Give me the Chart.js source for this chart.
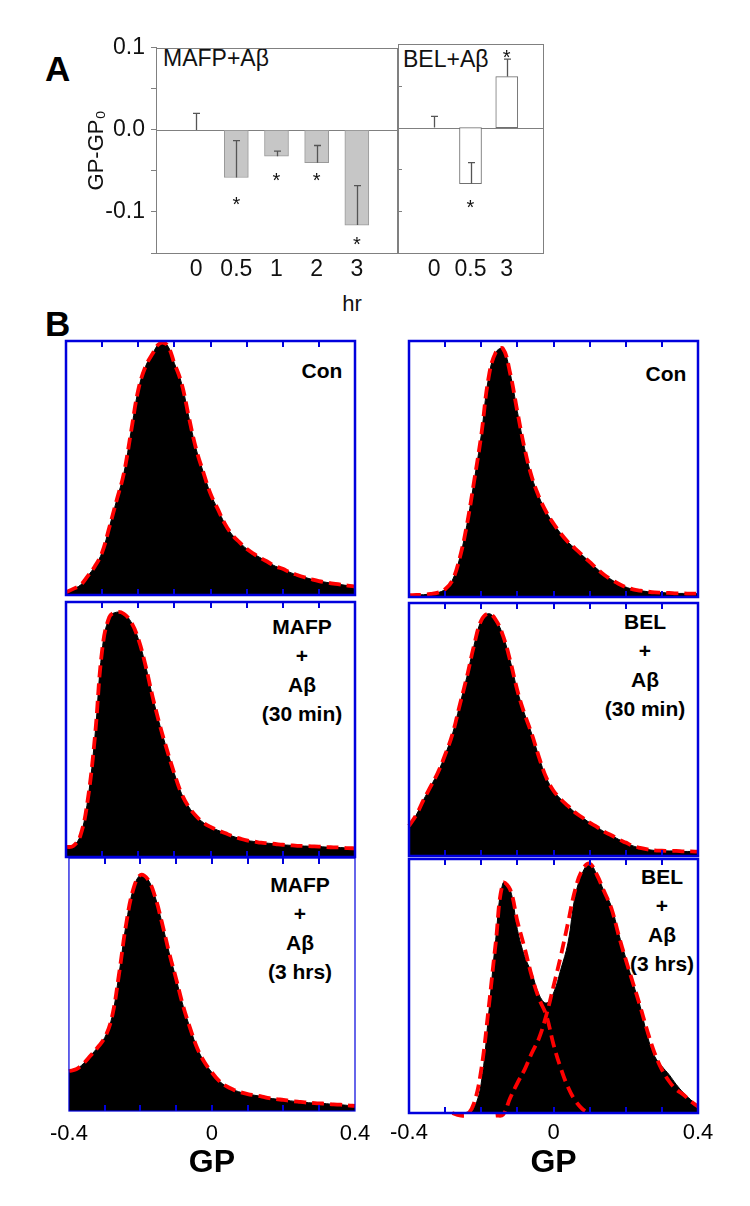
<!DOCTYPE html>
<html><head><meta charset="utf-8">
<script src="https://cdn.jsdelivr.net/npm/chart.js@4.4.1/dist/chart.umd.min.js"></script>
<style>
html,body{margin:0;padding:0;background:#fff;}
body{width:750px;height:1206px;position:relative;overflow:hidden;font-family:"Liberation Sans",Arial,Helvetica,sans-serif;color:#000;}
canvas{position:absolute;}
.t{position:absolute;white-space:nowrap;}
.pl{font-weight:bold;font-size:35px;line-height:40px;}
.ann{font-size:23px;line-height:26px;color:#111;}
.hl{font-weight:bold;font-size:21px;line-height:29px;text-align:center;transform:translateX(-50%);}
</style></head><body>
<div class="t pl" style="left:45px;top:49px">A</div>
<div class="t pl" style="left:45px;top:304px">B</div>
<div class="t ann" style="left:163px;top:45px">MAFP+Aβ</div>
<div class="t ann" style="left:403px;top:46px">BEL+Aβ</div>
<div class="t ann" style="left:352px;top:291px;transform:translateX(-50%);font-size:22px">hr</div>
<div class="t hl" style="left:322px;top:356px">Con</div>
<div class="t hl" style="left:666px;top:359px">Con</div>
<div class="t hl" style="left:302px;top:612px">MAFP<br>+<br>Aβ<br>(30 min)</div>
<div class="t hl" style="left:645px;top:607px">BEL<br>+<br>Aβ<br>(30 min)</div>
<div class="t hl" style="left:300px;top:870px">MAFP<br>+<br>Aβ<br>(3 hrs)</div>
<div class="t hl" style="left:662px;top:862px">BEL<br>+<br>Aβ<br>(3 hrs)</div>
<script>
// ---------- Panel A data ----------
const aLeftLabels  = ['0','0.5','1','2','3'];
const aLeftValues  = [0.000,-0.058,-0.032,-0.040,-0.116];
const aLeftErrors  = [0.020, 0.045, 0.006, 0.021, 0.048];
const aLeftStars   = [null,-0.085,-0.056,-0.056,-0.133];
const aRightLabels = ['0','0.5','3'];
const aRightValues = [0.000,-0.067,0.061];
const aRightErrors = [0.0135,0.025,0.021];
const aRightStars  = [null,-0.089,0.090];
const aYTickValues = [-0.1,0,0.1];
const aYTickLabels = ['-0.1','0.0','0.1'];

// ---------- Panel B data (GP histograms, % of frame height) ----------
const gpGrid = [-0.40,-0.38,-0.36,-0.34,-0.32,-0.30,-0.28,-0.26,-0.24,-0.22,-0.20,-0.18,-0.16,-0.14,-0.12,-0.10,-0.08,-0.06,-0.04,-0.02,0.00,
                0.02,0.04,0.06,0.08,0.10,0.12,0.14,0.16,0.18,0.20,0.22,0.24,0.26,0.28,0.30,0.32,0.34,0.36,0.38,0.40];
const gpTickValues = [-0.4,0,0.4];
const gpTickLabels = ['-0.4','0','0.4'];
const histConMafp = [1.1,2.4,3.9,7.4,11.3,16.8,26.7,37.2,47.8,64.2,80.7,89.9,95.1,99.1,98.4,91.2,83.3,70.1,57.6,48.4,39.9,
                     33.9,28.0,23.7,20.8,18.2,16.2,14.5,12.9,11.3,10.3,8.9,7.9,7.0,6.2,5.5,5.0,4.5,4.1,3.7,3.4];
const histConBel  = [0.7,0.8,0.9,1.2,1.7,3.0,6.5,15.0,28.0,45.0,63.2,85.4,95.5,97.0,87.4,72.4,58.0,46.9,39.1,33.2,28.7,
                     24.8,21.5,18.9,16.3,13.7,11.1,8.7,6.8,5.2,3.9,3.0,2.5,2.1,1.8,1.7,1.6,1.4,1.4,1.3,1.3];
const histMafp30  = [3.9,4.3,8.5,22.2,47.1,81.0,94.1,96.0,95.4,92.2,85.6,75.2,62.7,51.6,41.8,32.7,24.8,19.6,16.1,13.5,11.8,
                     10.5,9.4,8.2,7.3,6.5,6.1,5.6,5.4,5.1,4.8,4.6,4.4,4.3,4.2,4.1,3.9,3.8,3.7,3.5,3.4];
const histBel30   = [11.9,16.2,22.1,27.5,33.0,40.0,48.0,59.4,70.7,83.2,93.1,95.8,93.4,87.2,77.3,65.4,56.1,48.2,39.0,31.0,25.8,
                     22.5,19.8,17.2,15.2,13.2,11.5,9.6,8.2,6.6,5.3,4.0,3.2,2.6,2.2,2.1,2.0,2.0,1.8,1.8,1.7];
const histMafp3h  = [15.8,16.5,18.7,21.8,25.1,29.0,36.9,54.1,73.9,87.7,93.3,91.7,85.1,74.5,62.7,52.1,41.2,32.3,24.4,19.1,15.2,
                     11.9,9.8,8.4,7.4,6.7,6.2,5.7,5.1,4.7,4.4,4.0,3.7,3.4,3.2,3.0,2.9,2.6,2.5,2.2,2.0];
const histBel3h   = [0,0,0,0,0,0,0,0,0.3,2.0,11.8,38.1,68.2,90.5,88.0,72.2,61.7,55.1,46.6,43.3,47.2,
                     56.4,66.9,85.3,94.5,98.2,93.8,87.3,81.4,70.9,61.0,51.2,42.0,30.2,22.3,18.4,15.1,11.2,7.9,5.2,2.6];
const fitBel3hA   = [null,null,null,null,null,null,0,-0.9,-0.7,3.9,17.1,40.7,66.9,90.5,88.0,75.5,65.0,53.8,45.0,38.5,27.0,
                     17.7,10.2,4.9,1.6,0,null,null,null,null,null,null,null,null,null,null,null,null,null,null,null];
const fitBel3hB   = [null,null,null,null,null,null,null,null,null,null,null,null,-1.0,-0.7,5.9,11.8,17.1,23.6,29.5,38.5,49.9,
                     61.7,74.8,87.9,95.8,98.2,93.8,87.3,80.7,70.2,60.4,51.2,42.0,32.2,23.6,17.1,12.5,9.2,7.2,4.6,2.6];

Chart.defaults.font.family = '"Liberation Sans", Arial, Helvetica, sans-serif';

function addCanvas(left, top, w, h){
  const cv = document.createElement('canvas');
  cv.width = w; cv.height = h;
  cv.style.left = left + 'px'; cv.style.top = top + 'px';
  document.body.appendChild(cv);
  return cv;
}

// ---------- Panel A ----------
function aPlugin(cfg){
  return {
    id: 'pa_' + cfg.name,
    beforeDatasetsDraw(chart){
      const {ctx, chartArea: a, scales: {y}} = chart;
      const y0 = Math.round(y.getPixelForValue(0)) + 0.5;
      ctx.save();
      ctx.strokeStyle = '#808080'; ctx.lineWidth = 1;
      ctx.beginPath(); ctx.moveTo(a.left, y0); ctx.lineTo(a.right, y0); ctx.stroke();
      ctx.restore();
    },
    afterDatasetsDraw(chart){
      const {ctx, chartArea: a, scales: {x, y}} = chart;
      ctx.save();
      ctx.strokeStyle = '#555'; ctx.lineWidth = 1.3;
      cfg.values.forEach((v, i) => {
        const px = Math.round(x.getPixelForValue(i)) + 0.5;
        const p0 = y.getPixelForValue(v), p1 = y.getPixelForValue(v + cfg.errors[i]);
        ctx.beginPath(); ctx.moveTo(px, p0); ctx.lineTo(px, p1);
        ctx.moveTo(px - 3.5, p1); ctx.lineTo(px + 3.5, p1); ctx.stroke();
      });
      ctx.fillStyle = '#111'; ctx.font = '20px "Liberation Sans", Arial, sans-serif';
      ctx.textAlign = 'center'; ctx.textBaseline = 'alphabetic';
      cfg.stars.forEach((s, i) => {
        if (s === null) return;
        ctx.fillText('*', x.getPixelForValue(i), y.getPixelForValue(s) + 11.5);
      });
      ctx.strokeStyle = '#808080'; ctx.lineWidth = 1;
      ctx.strokeRect(Math.round(a.left) + 0.5, Math.round(a.top) + 0.5, Math.round(a.right - a.left), Math.round(a.bottom - a.top));
      if (cfg.innerTicks) {
        ctx.beginPath();
        y.ticks.forEach(t => {
          if (Math.abs(t.value) < 1e-9 || t.value <= y.min + 1e-9 || t.value >= y.max - 1e-9) return;
          const py = Math.round(y.getPixelForValue(t.value)) + 0.5;
          ctx.moveTo(a.left, py); ctx.lineTo(a.left + 4, py);
        });
        ctx.stroke();
      }
      ctx.restore();
    }
  };
}

function makeA(cfg){
  const cv = addCanvas(cfg.cx, cfg.cy, cfg.cw, cfg.ch);
  const yLabel = v => { const i = aYTickValues.findIndex(t => Math.abs(t - v) < 1e-6); return i >= 0 ? aYTickLabels[i] : ''; };
  new Chart(cv, {
    type: 'bar',
    data: { datasets: [{
      data: cfg.values.map((v, i) => ({x: i, y: v})),
      backgroundColor: cfg.fill, borderColor: cfg.edge, borderWidth: 1, borderSkipped: false,
      barThickness: cfg.barW
    }]},
    options: {
      responsive: false, animation: false, events: [],
      layout: { padding: cfg.pad },
      plugins: { legend: {display: false}, tooltip: {enabled: false} },
      scales: {
        x: { type: 'linear', min: -1, max: cfg.labels.length, offset: false,
             ticks: { stepSize: 1, autoSkip: false, maxRotation: 0, padding: 3, font: {size: 23}, color: '#111',
                      callback: v => (Number.isInteger(v) && v >= 0 && v < cfg.labels.length) ? cfg.labels[v] : '' },
             grid: { display: false, drawTicks: false }, border: { display: false },
             afterFit: s => { s.height = 71; } },
        y: { type: 'linear', min: -0.15, max: 0.1, display: cfg.yAxis,
             ticks: { stepSize: 0.05, padding: 6, font: {size: 23}, color: '#111', callback: yLabel },
             grid: { display: true, drawOnChartArea: false, drawTicks: true, tickLength: 5, tickColor: '#808080', tickWidth: 1 },
             border: { display: true, color: '#808080' },
             title: { display: cfg.yAxis, text: 'GP-GP₀', font: {size: 22}, color: '#111', padding: {top: 28, bottom: 0} },
             afterFit: s => { s.width = cfg.yAxis ? 100 : 0; } }
      }
    },
    plugins: [aPlugin(cfg)]
  });
}

makeA({name: 'left', labels: aLeftLabels, values: aLeftValues, errors: aLeftErrors, stars: aLeftStars,
       fill: '#c6c6c6', edge: '#9a9a9a', barW: 24, yAxis: true, innerTicks: false,
       cx: 56, cy: 28, cw: 344, ch: 296, pad: {top: 16, left: 0, right: 2, bottom: 0}});
makeA({name: 'right', labels: aRightLabels, values: aRightValues, errors: aRightErrors, stars: aRightStars,
       fill: '#ffffff', edge: '#707070', barW: 22, yAxis: false, innerTicks: true,
       cx: 392, cy: 28, cw: 156, ch: 296, pad: {top: 16, left: 6, right: 5, bottom: 0}});

// ---------- Panel B ----------
const frameB = {
  id: 'frameB',
  afterDraw(chart, args, opts){
    const {ctx, chartArea: a, scales: {x}} = chart;
    ctx.save();
    ctx.strokeStyle = opts.color; ctx.lineWidth = opts.width;
    ctx.strokeRect(a.left, a.top, a.right - a.left, a.bottom - a.top);
    ctx.lineWidth = 2;
    ctx.beginPath();
    x.ticks.forEach(t => {
      if (t.value <= x.min + 1e-9 || t.value >= x.max - 1e-9) return;
      const px = Math.round(x.getPixelForValue(t.value));
      ctx.moveTo(px, a.top); ctx.lineTo(px, a.top + 6);
      ctx.moveTo(px, a.bottom); ctx.lineTo(px, a.bottom - 6);
    });
    ctx.stroke();
    ctx.restore();
  }
};

const toPts = arr => gpGrid.map((g, i) => ({x: g, y: arr[i]}));
const gpLabel = v => { const i = gpTickValues.findIndex(t => Math.abs(t - v) < 1e-6); return i >= 0 ? gpTickLabels[i] : ''; };

function makeB(p){
  const [L, T, R, B] = p.frame;
  const padX = p.axis ? 26 : 4, padT = 4, padB = p.axis ? 0 : 4;
  const axisH = p.axis ? (1190 - B) : 0;
  const cv = addCanvas(L - padX, T - padT, (R - L) + 2 * padX, (B - T) + padT + (p.axis ? axisH : padB));
  const datasets = [];
  p.fits.forEach(f => datasets.push({
    data: toPts(f), borderColor: '#ff0000', borderWidth: 3.8, borderDash: [12, 6],
    pointRadius: 0, fill: false, tension: 0.4, order: 0, clip: false
  }));
  datasets.push({
    data: toPts(p.hist), borderColor: '#000', backgroundColor: '#000', borderWidth: 1,
    pointRadius: 0, fill: 'origin', tension: 0.4, order: 1
  });
  new Chart(cv, {
    type: 'line',
    data: { datasets },
    options: {
      responsive: false, animation: false, events: [],
      layout: { padding: {left: padX, right: padX, top: padT, bottom: padB} },
      plugins: { legend: {display: false}, tooltip: {enabled: false}, frameB: {color: '#0000dd', width: p.fw} },
      scales: {
        x: { type: 'linear', min: -0.4, max: 0.4, display: p.axis,
             ticks: { stepSize: 0.1, autoSkip: false, maxRotation: 0, padding: p.tickPad || 0, font: {size: 22}, color: '#000', callback: gpLabel },
             grid: { display: false, drawTicks: false }, border: { display: false },
             title: { display: p.axis, text: 'GP', font: {size: 32, weight: 'bold'}, color: '#000', padding: {top: 0, bottom: 8} },
             afterFit: s => { s.height = axisH; } },
        y: { type: 'linear', min: 0, max: 100, display: false }
      }
    },
    plugins: [frameB]
  });
}

makeB({hist: histConMafp, fits: [histConMafp], frame: [66, 341, 355, 595],  fw: 2.5, axis: false});
makeB({hist: histConBel,  fits: [histConBel],  frame: [409, 341, 698, 597], fw: 2.5, axis: false});
makeB({hist: histMafp30,  fits: [histMafp30],  frame: [66, 602, 355, 857],  fw: 2.5, axis: false});
makeB({hist: histBel30,   fits: [histBel30],   frame: [409, 603, 698, 856], fw: 2.5, axis: false});
makeB({hist: histMafp3h,  fits: [histMafp3h],  frame: [66, 858, 355, 1111], fw: 1.2, axis: true, tickPad: 10});
makeB({hist: histBel3h,   fits: [fitBel3hA, fitBel3hB], frame: [409, 859, 698, 1113], fw: 2.5, axis: true, tickPad: 7});
</script>
</body></html>
